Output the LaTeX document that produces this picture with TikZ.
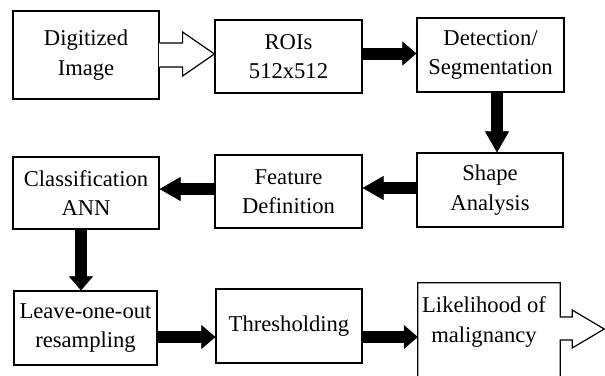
\documentclass[tikz,border=0pt]{standalone}
\usepackage{fontspec}
\setmainfont{Liberation Serif}
\usetikzlibrary{arrows.meta,calc}
\begin{document}
\begin{tikzpicture}[x=1pt,y=-1pt,
  box/.style={draw, line width=1.2pt, inner sep=0pt, align=center, font=\fontsize{22.6}{29.5}\selectfont},
  txt/.style={inner sep=0pt, align=center, font=\fontsize{22.6}{29.5}\selectfont},
  outl/.style={draw, line width=1.2pt, line join=miter},
  blk/.style={draw=black, line width=12pt, -{Triangle[length=14pt,width=24pt,line width=0.6pt]}},
  blklong/.style={draw=black, line width=12pt, -{Triangle[length=21pt,width=24pt,line width=0.6pt]}}
]
\useasboundingbox (0,0) rectangle (605,375);

% boxes
\node[box, minimum width=146pt, minimum height=88pt] (b1) at (86,55) {Digitized\\Image};
\node[box, minimum width=147pt, minimum height=73pt] (b2) at (288.5,56.5) {ROIs\\512x512};
\node[box, minimum width=147pt, minimum height=74pt] (b3) at (490.5,55) {Detection/\\Segmentation};
\node[box, minimum width=146pt, minimum height=74pt] (b4) at (490,190) {Shape\\Analysis};
\node[box, minimum width=147pt, minimum height=73pt] (b5) at (288.5,191.5) {Feature\\Definition};
\node[box, minimum width=146pt, minimum height=72pt] (b6) at (86,193) {Classification\\ANN};
\node[box, minimum width=143pt, minimum height=74pt] (b7) at (85.5,328) {Leave-one-out\\resampling};
\node[box, minimum width=146pt, minimum height=74pt] (b8) at (289,326) {Thresholding};
\node[inner sep=0pt, minimum width=142pt, minimum height=100pt] (b9) at (489,333) {};
\node[txt] (t9) at (484,322) {Likelihood of\\malignancy};

% likelihood box with open output arrow
\draw[outl] (b9.south west) -- (b9.north west) -- (b9.north east) -- ($(b9.east)+(0,-16)$)
  -- ++(12,0) -- ++(0,-7) -- ++(32,19) -- ++(-32,19) -- ++(0,-8) -- ++(-12,0) -- (b9.south east);

% hollow input arrow
\fill[white] ($(b1.east)+(-1,-12)$) rectangle ($(b1.east)+(1,12)$);
\draw[outl] ($(b1.east)+(0,-12)$) -- ++(23,0) -- ++(0,-11) -- ($(b2.west)+(0,-2.5)$)
  -- ($(b1.east)+(23,21)$) -- ++(0,-9) -- ++(-23,0);

% block arrows
\draw[blk] ([yshift=3pt]b2.east) -- ([yshift=3pt]b2.east -| b3.west);
\draw[blklong] ([xshift=6.5pt]b3.south) -- ([xshift=6.5pt]b3.south |- b4.north);
\draw[blklong] ([yshift=2pt]b4.west) -- ([yshift=2pt]b4.west -| b5.east);
\draw[blklong] ([yshift=2.5pt]b5.west) -- ([yshift=2.5pt]b5.west -| b6.east);
\draw[blk] ([xshift=-5pt]b6.south) -- ([xshift=-5pt]b6.south |- b7.north);
\draw[blk] ([yshift=-9pt]b7.east) -- ([yshift=-9pt]b7.east -| b8.west);
\draw[blk] ([yshift=-11pt]b8.east) -- ([yshift=-11pt]b8.east -| b9.west);
\end{tikzpicture}
\end{document}
